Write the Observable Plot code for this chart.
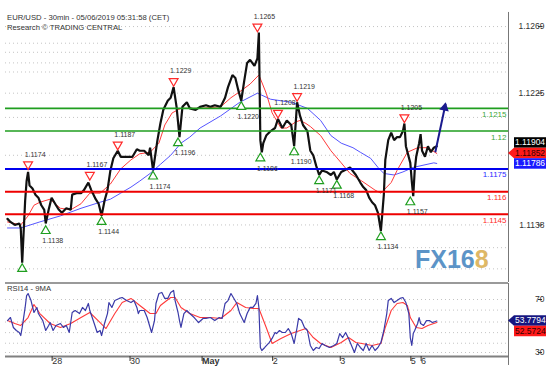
<!DOCTYPE html>
<html><head><meta charset="utf-8">
<script src="https://cdn.jsdelivr.net/npm/d3@7"></script>
<script src="https://cdn.jsdelivr.net/npm/@observablehq/plot@0.6"></script>
<style>
body{margin:0;background:#fff;}
#wrap{position:relative;width:554px;height:374px;overflow:hidden;background:#fff;font-family:"Liberation Sans",Arial,sans-serif;}
#wrap svg{position:absolute;left:0;overflow:visible;}
</style></head><body><div id="wrap"></div>
<script>
// ---------- DATA (x = 30-min bar index from start of window) ----------
const titleLine1 = "EUR/USD - 30min - 05/06/2019 05:31:58 (CET)";
const titleLine2 = "Research \u00A9 TRADING CENTRAL";
const rsiTitle = "RSI14 - 9MA";

const pricePoints = [
 [0,1.1142],[2,1.1140],[5,1.1138],[8,1.1139],[9,1.1136],[10,1.1113],[12,1.1154],[13,1.1167],[14,1.1173],[15,1.1164],
 [17,1.1162],[19,1.1158],[21,1.1156],[23,1.1151],[25,1.1148],[26,1.1139],[28,1.1148],[30,1.1156],[33,1.1151],[35,1.1148],
 [37,1.1146],[40,1.1149],[43,1.1148],[44,1.1158],[47,1.1159],[50,1.1159],[52,1.1161],[55,1.1166],[57,1.1161],[60,1.1155],
 [62,1.1152],[64,1.1144],[66,1.1154],[68,1.1161],[70,1.1174],[72,1.1182],[75,1.1187],[77,1.1183],[80,1.1183],[82,1.1183],
 [85,1.1183],[88,1.1188],[90,1.1187],[93,1.1187],[96,1.1184],[97,1.1189],[99,1.1174],[102,1.1194],[104,1.1205],[106,1.1214],
 [109,1.1220],[111,1.1222],[113,1.1229],[115,1.1216],[117,1.1196],[119,1.1216],[122,1.1219],[124,1.1215],[128,1.1214],[131,1.1216],
 [135,1.1217],[138,1.1216],[141,1.1217],[145,1.1216],[148,1.1222],[150,1.1229],[153,1.1237],[155,1.1235],[157,1.1227],[159,1.1220],
 [161,1.1233],[163,1.1245],[165,1.1247],[168,1.1243],[170,1.1248],[171,1.1265],[172,1.1194],[173,1.1186],[174,1.1192],[176,1.1197],
 [179,1.1200],[182,1.1202],[184,1.1208],[187,1.1202],[190,1.1207],[193,1.1204],[195,1.1190],[197,1.1219],[199,1.1210],[201,1.1204],
 [204,1.1200],[206,1.1187],[208,1.1184],[210,1.1177],[212,1.1171],[214,1.1174],[217,1.1173],[220,1.1171],[222,1.1173],[224,1.1168],
 [227,1.1173],[229,1.1174],[233,1.1176],[237,1.1171],[240,1.1166],[242,1.1163],[244,1.1161],[246,1.1156],[248,1.1153],[250,1.1151],
 [252,1.1146],[254,1.1134],[256,1.1158],[257,1.1181],[259,1.1194],[261,1.1199],[263,1.1194],[265,1.1196],[267,1.1196],[269,1.1200],
 [270,1.1205],[271,1.1190],[274,1.1179],[275,1.1167],[276,1.1157],[277,1.1174],[278,1.1183],[280,1.1192],[281,1.1198],[282,1.1187],
 [284,1.1183],[286,1.1190],[288,1.1186],[290,1.1189],[292,1.1190]
];
const fastMA = [
 [0,1.1140],[9,1.1138],[14,1.1144],[18,1.1151],[22,1.1153],[29,1.1155],[36,1.1149],[43,1.1148],[50,1.1152],[56,1.1159],
 [63,1.1159],[70,1.1165],[77,1.1175],[84,1.1181],[90,1.1185],[97,1.1186],[103,1.1192],[107,1.1204],[112,1.1212],[118,1.1215],
 [131,1.1215],[145,1.1216],[152,1.1222],[158,1.1226],[165,1.1231],[171,1.1237],[176,1.1225],[180,1.1212],[186,1.1202],[190,1.1202],
 [196,1.1206],[199,1.1207],[203,1.1205],[206,1.1203],[213,1.1197],[220,1.1187],[227,1.1179],[233,1.1172],[241,1.1167],[250,1.1161],
 [254,1.1159],[261,1.1166],[265,1.1174],[272,1.1186],[279,1.1189],[286,1.1189],[292,1.11852]
];
const slowMA = [
 [0,1.1136],[9,1.1136],[22,1.1140],[36,1.1144],[50,1.1149],[63,1.1153],[70,1.1155],[77,1.1159],[84,1.1163],[90,1.1167],
 [97,1.1172],[104,1.1178],[111,1.1184],[118,1.1192],[124,1.1196],[131,1.1202],[145,1.1210],[158,1.1219],[170,1.1225],[179,1.1221],
 [193,1.1219],[204,1.1215],[213,1.1207],[220,1.1197],[227,1.1192],[235,1.1189],[240,1.1186],[247,1.1182],[252,1.1176],[256,1.1172],
 [263,1.1171],[269,1.1173],[276,1.1176],[290,1.1179],[292,1.11786]
];
const highBars   = [14, 56, 75, 113, 170, 184, 197, 270];
const highValues = [1.1174, 1.1167, 1.1187, 1.1229, 1.1265, 1.1208, 1.1219, 1.1205];
const lowBars    = [10, 26, 64, 99, 116, 159, 172, 195, 212, 224, 254, 274];
const lowValues  = [1.1113, 1.1138, 1.1144, 1.1174, 1.1196, 1.1220, 1.1186, 1.1190, 1.1171, 1.1168, 1.1134, 1.1157];
const lowShown   = [false, true, true, true, true, true, true, true, true, true, true, true];

const levelValues = [1.1215, 1.12, 1.1175, 1.116, 1.1145];
const levelLabels = ["1.1215", "1.12", "1.1175", "1.116", "1.1145"];
const levelColors = ["#1f9e1f", "#1f9e1f", "#0000ee", "#ee0000", "#ee0000"];
const levelTextColors = ["#3aa63a", "#3aa63a", "#2a2aff", "#ff2a2a", "#ff2a2a"];

const arrowFrom = [291, 1.1186];
const arrowTo   = [298, 1.1218];

const priceTicks = [1.1269, 1.1225, 1.1138];
const priceGrid = [1.1269, 1.1258, 1.1252, 1.1245, 1.1239, 1.1225, 1.1209, 1.1184, 1.1138, 1.1123, 1.1109];
const lastPrices = [1.11904, 1.11852, 1.11786];

const rsiPoints = [
 [0,54.1],[2,56.4],[4,48.9],[6,46.6],[8,45.1],[9,42.8],[10,48.9],[12,64.0],[13,73.0],[14,74.5],
 [16,69.2],[18,60.2],[20,64.0],[21,59.4],[24,54.1],[26,46.6],[28,50.4],[29,52.6],[31,46.6],[33,50.4],
 [36,51.9],[38,48.9],[40,50.4],[42,45.1],[44,60.2],[46,61.7],[49,59.4],[51,64.0],[53,61.7],[55,67.0],
 [56,61.7],[59,51.9],[61,45.1],[63,46.6],[64,42.8],[66,51.9],[68,59.4],[69,67.7],[71,64.0],[73,69.2],
 [76,70.8],[78,71.5],[81,69.2],[84,67.7],[86,69.2],[88,64.0],[89,59.4],[90,61.7],[93,61.7],[95,56.4],
 [97,48.9],[98,45.1],[100,54.1],[101,67.0],[103,74.5],[105,75.3],[107,70.8],[109,70.8],[111,75.3],[113,76.8],
 [114,69.2],[116,60.2],[117,54.1],[118,48.9],[120,59.4],[122,61.7],[124,59.4],[127,56.4],[130,52.6],[133,55.7],
 [135,55.7],[138,56.4],[141,54.1],[144,56.4],[146,55.7],[148,67.0],[150,69.2],[152,74.5],[154,70.8],[156,67.0],
 [158,59.4],[161,52.6],[163,59.4],[165,64.0],[167,64.0],[169,67.0],[170,73.0],[171,64.0],[172,33.8],[173,31.5],
 [175,33.8],[178,37.5],[180,40.6],[182,45.1],[183,44.3],[185,46.6],[187,45.1],[189,45.1],[191,48.1],[193,44.3],
 [195,36.8],[197,48.9],[198,55.7],[200,54.1],[202,48.9],[204,46.6],[206,35.3],[208,31.5],[210,33.8],[212,33.0],
 [214,36.8],[216,35.3],[219,33.8],[222,35.3],[224,36.8],[226,44.3],[228,41.3],[230,45.1],[232,40.6],[234,35.3],
 [236,30.0],[238,36.8],[240,33.8],[242,31.5],[244,36.8],[246,31.5],[248,35.3],[250,31.5],[252,33.8],[254,37.5],
 [256,46.6],[258,59.4],[259,69.2],[261,70.8],[263,67.7],[265,69.2],[267,70.8],[269,71.5],[271,67.7],[273,59.4],
 [274,41.3],[275,35.3],[276,44.3],[277,46.6],[279,51.9],[280,56.4],[281,51.9],[283,50.4],[285,54.1],[287,54.1],
 [289,52.6],[292,53.7794]
];
const rsiMA = [
 [0,54.1],[5,51.9],[9,50.4],[14,56.4],[18,66.2],[22,59.4],[29,51.9],[36,48.9],[43,51.9],[50,56.4],
 [56,60.2],[63,52.6],[67,48.1],[73,59.4],[78,67.7],[84,70.8],[90,65.5],[97,59.4],[101,59.4],[104,65.5],
 [111,71.5],[114,71.5],[118,64.0],[124,59.4],[131,56.4],[138,56.4],[145,55.7],[152,61.7],[156,67.7],[162,64.0],
 [167,63.2],[171,63.2],[176,48.9],[180,36.8],[186,40.6],[193,44.3],[199,46.6],[203,48.1],[208,41.3],[213,36.8],
 [220,33.8],[227,37.5],[232,41.3],[237,37.5],[241,36.8],[248,35.3],[254,36.8],[257,48.9],[261,61.7],[265,67.0],
 [269,67.7],[272,65.5],[274,56.4],[278,48.9],[282,48.1],[286,50.4],[292,52.5724]
];
const rsiTicks = [70, 30];
const rsiGrid = [70, 62, 53, 45, 37, 30];
const lastRsi = [53.7794, 52.5724];

const dayTickBars = [29, 82, 131, 179, 225, 273, 280];
const dayTickLabels = ["28", "30", "May", "2", "3", "5", "6"];

// ---------- SCALES / LAYOUT ----------
const X_DOMAIN = [-1.36, 340.8];
const MAIN_Y = [1.1100, 1.12862];
const RSI_Y = [26.98, 82.08];
const FONT = "Liberation Sans, Arial, sans-serif";

const price = pricePoints.map(([b, p]) => ({b, p}));
const fast = fastMA.map(([b, p]) => ({b, p}));
const slow = slowMA.map(([b, p]) => ({b, p}));
const highs = highBars.map((b, i) => ({b, p: highValues[i], label: highValues[i].toFixed(4)}));
const lows = lowBars.map((b, i) => ({b, p: lowValues[i], label: lowShown[i] ? lowValues[i].toFixed(4) : ""}));
const levels = levelValues.map((v, i) => ({v, label: levelLabels[i], c: levelColors[i], tc: levelTextColors[i], w: i < 2 ? 1.6 : 2}));

const wrap = document.getElementById("wrap");

const mainPlot = Plot.plot({
  width: 554, height: 283,
  marginLeft: 5, marginRight: 46, marginTop: 0, marginBottom: 1,
  x: {domain: X_DOMAIN, axis: null},
  y: {domain: MAIN_Y, axis: null},
  color: {type: "identity"},
  style: {fontFamily: FONT, fontSize: "8px", background: "transparent", overflow: "visible"},
  marks: [
    Plot.ruleY(priceGrid, {stroke: "#c4c4c4", strokeDasharray: "1,3"}),
    Plot.line(slow, {x: "b", y: "p", stroke: "#5555ff", strokeWidth: 1}),
    Plot.line(fast, {x: "b", y: "p", stroke: "#ff3a3a", strokeWidth: 1}),
    Plot.line(price, {x: "b", y: "p", stroke: "#111", strokeWidth: 2.2, strokeLinejoin: "miter"}),
    Plot.ruleY(levels, {y: "v", stroke: "c", strokeWidth: "w"}),
    Plot.text(levels, {x: X_DOMAIN[1], y: "v", text: "label", fill: "tc", textAnchor: "end", dx: -2, dy: 6, fontSize: 8}),
    Plot.dot(highs, {x: "b", y: "p", symbol: "triangle", rotate: 180, r: 3.3, stroke: "#ff2a2a", fill: "white", strokeWidth: 1.2, dy: -6}),
    Plot.dot(lows, {x: "b", y: "p", symbol: "triangle", r: 3.3, stroke: "#1f9e1f", fill: "white", strokeWidth: 1.2, dy: 6}),
    Plot.text(highs, {x: "b", y: "p", text: "label", dx: 7, dy: -16, fontSize: 7, fill: "#333"}),
    Plot.text(lows, {x: "b", y: "p", text: "label", dx: 7, dy: 16, fontSize: 7, fill: "#333"}),
    Plot.link([{x1: arrowFrom[0], y1: arrowFrom[1], x2: arrowTo[0], y2: arrowTo[1]}],
      {x1: "x1", y1: "y1", x2: "x2", y2: "y2", stroke: "#1a1a8e", strokeWidth: 2}),
    Plot.dot([{b: arrowTo[0], p: arrowTo[1]}], {x: "b", y: "p", symbol: "triangle", r: 3.6, fill: "#1a1a8e", rotate: 12, dy: 4, dx: -1}),
    Plot.ruleY([MAIN_Y[0]], {stroke: "#9a9a9a", strokeWidth: 1.2}),
    Plot.ruleX([X_DOMAIN[1]], {y1: 1.12783, y2: MAIN_Y[0], stroke: "#777", strokeWidth: 1}),
    Plot.axisY(priceTicks, {anchor: "right", label: null, tickSize: 4, tickPadding: 3, tickFormat: d => d.toFixed(4),
      textAnchor: "end", dx: 29, fontSize: 8.5, color: "#333"})
  ]
});
mainPlot.style.top = "0px";
wrap.appendChild(mainPlot);

const rsiData = rsiPoints.map(([b, v]) => ({b, v}));
const rsiMaData = rsiMA.map(([b, v]) => ({b, v}));
const dayLabel = new Map(dayTickBars.map((b, i) => [b, dayTickLabels[i]]));

const rsiPlot = Plot.plot({
  width: 554, height: 91,
  marginLeft: 5, marginRight: 46, marginTop: 0, marginBottom: 18,
  x: {domain: X_DOMAIN, axis: null},
  y: {domain: RSI_Y, axis: null},
  style: {fontFamily: FONT, fontSize: "8px", background: "transparent", overflow: "visible"},
  marks: [
    Plot.ruleY(rsiGrid, {stroke: "#c4c4c4", strokeDasharray: "1,3"}),
    Plot.line(rsiMaData, {x: "b", y: "v", stroke: "#ff3a3a", strokeWidth: 1.1}),
    Plot.line(rsiData, {x: "b", y: "v", stroke: "#3a3aa8", strokeWidth: 1.2}),
    Plot.ruleY([RSI_Y[1]], {stroke: "#9a9a9a", strokeWidth: 1}),
    Plot.ruleY([RSI_Y[0]], {stroke: "#808080", strokeWidth: 2}),
    Plot.ruleX([X_DOMAIN[1]], {y1: RSI_Y[1], y2: 20.2, stroke: "#777", strokeWidth: 1}),
    Plot.axisY(rsiTicks, {anchor: "right", label: null, tickSize: 4, tickPadding: 3, tickFormat: d => String(d),
      textAnchor: "end", dx: 29, fontSize: 8.5, color: "#333"}),
    Plot.axisX(dayTickBars, {anchor: "bottom", label: null, tickSize: 5, tickPadding: -4, tickFormat: d => dayLabel.get(d),
      textAnchor: "start", dx: 2, fontSize: 9, color: "#333"})
  ]
});
rsiPlot.style.top = "283px";
wrap.appendChild(rsiPlot);

// bold "May"
d3.select(rsiPlot).selectAll("text").filter(function(){ return this.textContent === "May"; })
  .attr("font-weight", "bold");

// ---------- Titles, watermark ----------
const ms = d3.select(mainPlot);
ms.append("text").attr("x", 7).attr("y", 19.5).attr("font-size", 7.7).attr("fill", "#333")
  .attr("text-anchor", "start").attr("font-family", FONT).text(titleLine1);
ms.append("text").attr("x", 7).attr("y", 30).attr("font-size", 7.7).attr("fill", "#333")
  .attr("text-anchor", "start").attr("font-family", FONT).text(titleLine2);
const wm = ms.append("text").attr("x", 415).attr("y", 268).attr("font-size", 25).attr("font-weight", "bold")
  .attr("text-anchor", "start").attr("font-family", FONT).attr("opacity", 0.92);
wm.append("tspan").attr("fill", "#4f8bc3").text("FX16");
wm.append("tspan").attr("fill", "#dcb25a").text("8");

const rs = d3.select(rsiPlot);
rs.append("text").attr("x", 7).attr("y", 7.5).attr("font-size", 7.7).attr("fill", "#333")
  .attr("text-anchor", "start").attr("font-family", FONT).text(rsiTitle);

// ---------- Last value boxes on the right ----------
function tagBoxes(svgSel, plot, items) {
  const sx = plot.scale("x");
  const x0 = sx.apply(X_DOMAIN[1]);
  const h = 10.5;
  items.forEach(it => {
    const yc = it.y;
    const g = svgSel.append("g");
    const left = it.pointed ? x0 : x0 + 6, right = x0 + 38;
    if (it.pointed) {
      g.append("polygon").attr("points",
        `${x0},${yc} ${x0 + 6},${yc - h / 2} ${right},${yc - h / 2} ${right},${yc + h / 2} ${x0 + 6},${yc + h / 2}`)
        .attr("fill", it.bg);
    } else {
      g.append("rect").attr("x", left).attr("y", yc - h / 2).attr("width", right - left).attr("height", h).attr("fill", it.bg);
    }
    g.append("text").attr("x", x0 + 7).attr("y", yc).attr("dy", "0.35em").attr("font-size", 8.5)
      .attr("text-anchor", "start").attr("font-family", FONT).attr("fill", it.fg).text(it.text);
  });
}
{
  const sy = mainPlot.scale("y");
  const yr = sy.apply(lastPrices[1]);
  const yb = Math.min(sy.apply(lastPrices[0]), yr - 10.5);
  const yl = Math.max(sy.apply(lastPrices[2]), yr + 10.5);
  tagBoxes(ms, mainPlot, [
    {y: yb, text: lastPrices[0].toFixed(5), bg: "#000", fg: "#fff"},
    {y: yr, text: lastPrices[1].toFixed(5), bg: "#ff1a1a", fg: "#300", pointed: true},
    {y: yl, text: lastPrices[2].toFixed(5), bg: "#1a1aff", fg: "#fff"}
  ]);
  const sr = rsiPlot.scale("y");
  const y1 = sr.apply(lastRsi[0]);
  const y2 = Math.max(sr.apply(lastRsi[1]), y1 + 10.5);
  tagBoxes(rs, rsiPlot, [
    {y: y1, text: lastRsi[0].toFixed(4), bg: "#161680", fg: "#fff", pointed: true},
    {y: y2, text: lastRsi[1].toFixed(4), bg: "#ff1a1a", fg: "#300"}
  ]);
}
</script>
</body></html>
